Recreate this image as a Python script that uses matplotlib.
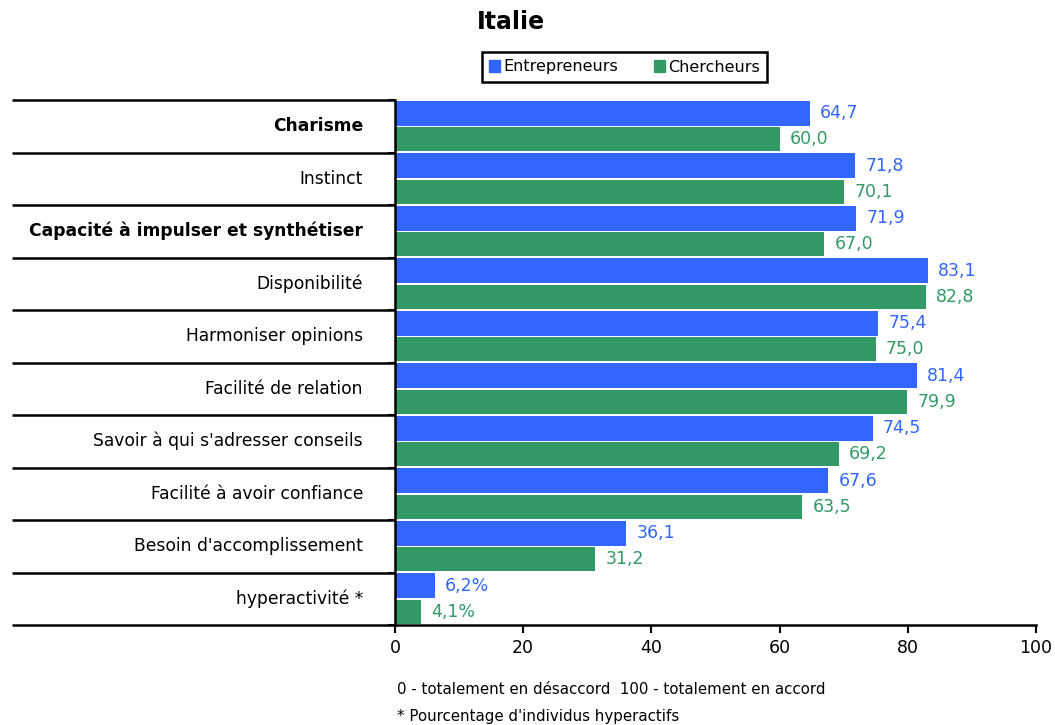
import numpy as np
import matplotlib.pyplot as plt
from matplotlib.patches import Patch

categories = ["Charisme", "Instinct", "Capacité à impulser et synthétiser",
              "Disponibilité", "Harmoniser opinions", "Facilité de relation",
              "Savoir à qui s'adresser conseils", "Facilité à avoir confiance",
              "Besoin d'accomplissement", "hyperactivité *"]
bold_rows = ["Charisme", "Capacité à impulser et synthétiser"]
entrepreneurs = [64.7, 71.8, 71.9, 83.1, 75.4, 81.4, 74.5, 67.6, 36.1, 6.2]
chercheurs = [60.0, 70.1, 67.0, 82.8, 75.0, 79.9, 69.2, 63.5, 31.2, 4.1]
pct_rows = ["hyperactivité *"]
xticks = [0, 20, 40, 60, 80, 100]

blue = "#3366FF"
green = "#339966"

plt.rcParams['font.family'] = ['DejaVu Sans']

fig = plt.figure(figsize=(10.55, 7.25), dpi=100)
ax = fig.add_axes([395/1055, 100/725, 641/1055, 525/725])

y = np.arange(len(categories))
ax.barh(y - 0.245, entrepreneurs, height=0.48, color=blue, zorder=2)
ax.barh(y + 0.25, chercheurs, height=0.46, color=green, zorder=2)

def fmt(v, cat):
    s = "{:.1f}".format(v).replace(".", ",")
    if cat in pct_rows:
        s += "%"
    return s

for i, cat in enumerate(categories):
    ax.text(entrepreneurs[i] + 1.6, i - 0.25, fmt(entrepreneurs[i], cat),
            color=blue, va="center", ha="left", fontsize=12.5)
    ax.text(chercheurs[i] + 1.6, i + 0.25, fmt(chercheurs[i], cat),
            color=green, va="center", ha="left", fontsize=12.5)
    ax.text(-0.05, i, cat, transform=ax.get_yaxis_transform(), ha="right",
            va="center", fontsize=12.3,
            fontweight="bold" if cat in bold_rows else "normal")

ax.set_xlim(0, 100)
ax.set_ylim(len(categories) - 0.5, -0.5)
ax.set_xticks(xticks)
ax.set_xticklabels([str(t) for t in xticks], fontsize=12.5)
bounds = np.arange(len(categories) + 1) - 0.5
ax.set_yticks(bounds)
ax.set_yticklabels([])
ax.tick_params(axis="y", length=5, width=1.5, direction="out")
ax.tick_params(axis="x", length=6, width=1.5, direction="out", pad=4)

ax.hlines(bounds, -0.5975, 0, transform=ax.get_yaxis_transform(),
          colors="black", linewidth=1.8, clip_on=False)

for s in ["top", "right"]:
    ax.spines[s].set_visible(False)
for s in ["left", "bottom"]:
    ax.spines[s].set_linewidth(1.8)

fig.text(511/1055, 1 - 22/725, "Italie", ha="center", va="center",
         fontsize=17, fontweight="bold")

handles = [Patch(color=blue, label="Entrepreneurs"),
           Patch(color=green, label="Chercheurs")]
leg = fig.legend(handles=handles, loc="center", ncol=2,
                 bbox_to_anchor=(624.5/1055, 1 - 67/725), frameon=True,
                 fancybox=False, edgecolor="black", framealpha=1,
                 fontsize=11.5,
                 handlelength=0.7, handleheight=0.7, handletextpad=0.2,
                 columnspacing=2.2, borderpad=0.45, borderaxespad=0)
leg.get_frame().set_linewidth(1.8)

fig.text(397/1055, 1 - 690/725, "0 - totalement en désaccord  100 - totalement en accord",
         ha="left", va="center", fontsize=10.8)
fig.text(397/1055, 1 - 717/725, "* Pourcentage d'individus hyperactifs",
         ha="left", va="center", fontsize=10.8)

fig.savefig("out.png", dpi=100)
